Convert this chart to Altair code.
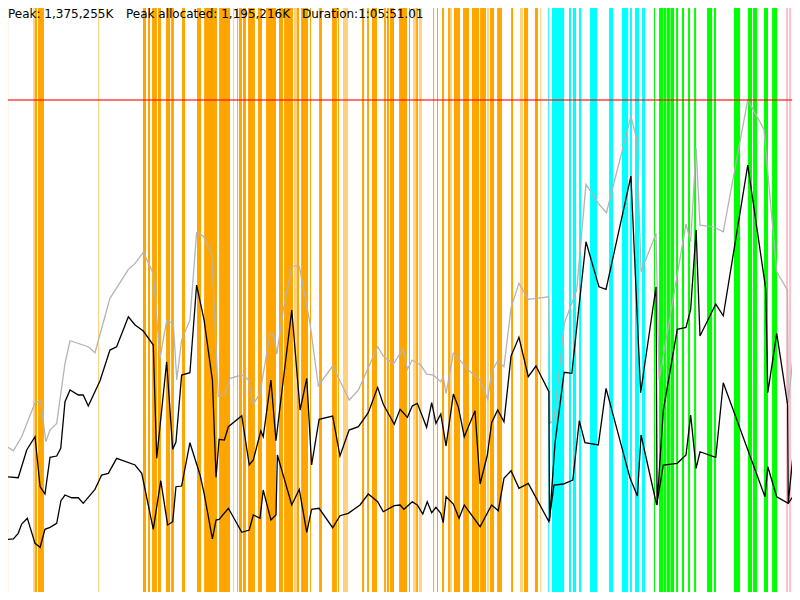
import altair as alt
import pandas as pd

# ---- header values ----
PEAK_K = 1375255          # K
PEAK_ALLOC_K = 1195216    # K
DURATION_S = 3951         # 1:05:51.01
header_texts = ["Peak: 1,375,255K", "Peak allocated: 1,195,216K", "Duration:1:05:51.01"]

# ---- GC event stripes (seconds) ----
stripe_start = [0, 30, 163, 173, 188, 484,
    706, 731, 751, 780, 820, 845, 899, 973, 1008, 1082, 1151, 1171, 1180, 1200, 1225, 1274, 1314,
    1378, 1403, 1452, 1467, 1487, 1531, 1576, 1640, 1669, 1694, 1788, 1813, 1837, 1897, 1911, 1926,
    1971, 2020, 2040, 2055, 2069, 2139, 2158, 2183, 2213, 2223, 2242, 2287, 2331, 2371, 2405, 2420,
    2455, 2524, 2568, 2588, 2642, 2667,
    2707, 2726, 2810, 2830, 2860, 2914, 3008, 3072, 3111, 3136, 3171,
    3230, 3255, 3277, 3292, 3311, 3339, 3368, 3398, 3428, 3492, 3526, 3625, 3694, 3719, 3773, 3813,
    3882, 3897, 3917, 3941]
stripe_end = [10, 40, 173, 183, 217, 489,
    721, 741, 775, 795, 840, 859, 914, 993, 1072, 1136, 1156, 1175, 1195, 1215, 1259, 1294, 1363,
    1398, 1447, 1467, 1477, 1521, 1536, 1590, 1664, 1674, 1719, 1798, 1822, 1862, 1906, 1921, 1946,
    2010, 2025, 2055, 2064, 2084, 2144, 2163, 2193, 2223, 2232, 2272, 2316, 2366, 2400, 2415, 2440,
    2479, 2534, 2583, 2608, 2657, 2672,
    2711, 2786, 2820, 2845, 2870, 2949, 3028, 3102, 3121, 3156, 3186,
    3235, 3275, 3289, 3309, 3329, 3349, 3378, 3408, 3438, 3517, 3536, 3655, 3714, 3739, 3793, 3838,
    3892, 3907, 3927, 3951]
stripe_kind = (["young"] * 61) + (["concurrent"] * 11) + (["full"] * 16) + (["other"] * 4)
stripe_light = [0, 0, 1, 0, 0, 1,
    0, 0, 0, 0, 0, 0, 0, 0, 0, 0, 1, 0, 0, 0, 0, 0, 0,
    0, 0, 1, 0, 0, 0, 0, 0, 0, 1, 0, 0, 0, 0, 0, 0,
    0, 0, 1, 0, 1, 0, 0, 0, 0, 1, 0, 0, 0, 0, 1, 0,
    0, 0, 1, 0, 0, 1,
    0, 0, 0, 0, 0, 0, 0, 0, 0, 0, 0,
    0, 0, 0, 0, 0, 0, 0, 0, 0, 0, 0, 0, 0, 0, 0, 0,
    0, 0, 0, 0]

# ---- total heap (thousand K) ----
heap_t = [25, 36, 66, 107, 173, 201, 226, 247, 280, 321, 346, 436, 469, 543, 634, 667, 708, 757, 790,
    823, 856, 873, 897, 938, 971, 1004, 1046, 1078, 1111, 1136, 1194, 1226, 1251, 1284, 1309, 1334,
    1353, 1367, 1399, 1441, 1478, 1531, 1572, 1643, 1725, 1770, 1865, 1893, 1943, 1976, 1992, 2012,
    2036, 2078, 2107, 2140, 2177, 2189, 2203, 2239, 2268, 2313, 2371, 2409, 2428, 2458, 2489, 2524,
    2563, 2609, 2711, 2716, 2736, 2787, 2848, 2894, 2958, 2995, 3116, 3145, 3166, 3240, 3255, 3388,
    3411, 3438, 3457, 3523, 3572, 3693, 3773, 3836, 3889, 3893, 3918, 3940, 3951]
heap_v = [426.3, 421.6, 410.6, 449.1, 542.6, 548.1, 435.3, 467.5, 485.9, 650.9, 713.1, 696.6, 680.1,
    829.7, 909.4, 925.9, 956.2, 898.4, 664.7, 768.1, 760.9, 605.0, 715.0, 770.0, 1010.1, 1001.0, 948.8,
    561.0, 566.5, 609.7, 618.8, 606.9, 538.2, 568.4, 650.9, 733.4, 728.8, 676.5, 797.5, 918.5, 918.5,
    760.9, 589.3, 643.5, 550.0, 577.5, 696.6, 671.0, 649.0, 678.4, 689.4, 634.4, 660.0, 646.3, 621.5,
    618.8, 600.3, 614.1, 568.4, 678.4, 661.9, 632.5, 605.0, 551.9, 627.8, 658.1, 641.6, 803.8, 870.9,
    826.9, 834.1, 485.9, 495.0, 760.9, 852.5, 1143.2, 1089.0, 1065.1, 1331.0, 1266.9, 902.8, 1008.4,
    605.0, 1034.0, 985.3, 1242.2, 1031.3, 1026.6, 1012.8, 1375.3, 1294.4, 902.8, 852.5, 541.8, 678.4,
    719.7, 728.8]

# ---- used heap before GC (thousand K) ----
used_t = [0, 36, 90, 132, 173, 198, 222, 247, 280, 300, 321, 346, 387, 411, 436, 494, 543, 576, 634,
    667, 708, 757, 774, 823, 853, 869, 897, 938, 971, 1008, 1049, 1067, 1082, 1108, 1128, 1194, 1231,
    1251, 1288, 1300, 1338, 1363, 1383, 1441, 1482, 1515, 1539, 1576, 1643, 1679, 1724, 1770, 1819,
    1865, 1893, 1947, 1976, 1992, 2012, 2036, 2061, 2107, 2132, 2153, 2177, 2203, 2239, 2264, 2293,
    2346, 2371, 2407, 2428, 2458, 2489, 2524, 2563, 2609, 2647, 2711, 2714, 2741, 2786, 2824, 2894,
    2958, 2993, 3116, 3164, 3240, 3245, 3276, 3345, 3388, 3411, 3438, 3457, 3535, 3572, 3693, 3782,
    3792, 3836, 3890, 3893, 3918, 3940]
used_v = [114.7, 339.1, 336.3, 412.5, 449.1, 311.6, 291.5, 392.4, 396.0, 417.2, 545.3, 577.5, 563.8,
    563.8, 533.5, 603.1, 687.5, 696.6, 779.1, 756.3, 739.8, 701.3, 389.7, 655.3, 414.4, 434.5, 618.8,
    625.1, 866.3, 770.0, 605.0, 337.4, 441.9, 440.0, 476.6, 506.8, 371.3, 385.0, 465.6, 449.1, 605.0,
    438.1, 531.6, 797.5, 522.5, 609.7, 371.3, 496.9, 506.0, 396.0, 467.5, 476.6, 515.1, 584.9, 538.2,
    483.2, 524.4, 515.1, 502.4, 533.5, 540.9, 474.9, 542.6, 485.9, 511.5, 423.5, 566.5, 529.9, 449.1,
    520.6, 319.0, 398.8, 487.6, 522.5, 490.3, 671.0, 722.4, 614.1, 643.5, 572.8, 217.3, 430.9, 626.2,
    623.4, 985.3, 861.6, 854.4, 1166.0, 570.1, 861.6, 261.3, 522.5, 744.4, 749.9, 799.4, 1017.5, 726.0,
    814.0, 781.8, 1196.3, 854.4, 570.1, 733.4, 536.3, 265.9, 408.3, 391.7]

# ---- used heap after GC (thousand K) ----
live_t = [0, 66, 90, 107, 135, 173, 198, 222, 247, 280, 301, 321, 354, 387, 411, 469, 502, 535, 576,
    667, 700, 757, 794, 828, 853, 869, 897, 938, 988, 1008, 1049, 1067, 1082, 1128, 1194, 1231, 1251,
    1284, 1300, 1338, 1363, 1370, 1441, 1478, 1515, 1539, 1576, 1643, 1679, 1720, 1778, 1819, 1865,
    1893, 1947, 1976, 1995, 2036, 2061, 2088, 2110, 2132, 2153, 2177, 2189, 2203, 2239, 2267, 2293,
    2371, 2428, 2461, 2489, 2524, 2563, 2609, 2711, 2736, 2782, 2829, 2861, 2889, 2955, 2993, 3112,
    3148, 3166, 3243, 3276, 3345, 3388, 3411, 3438, 3457, 3535, 3572, 3778, 3792, 3836, 3893, 3918,
    3940]
live_v = [165.0, 167.8, 183.4, 209.0, 224.7, 155.9, 144.9, 194.4, 199.9, 210.9, 273.1, 288.8, 281.3,
    281.3, 265.9, 304.4, 343.8, 348.4, 389.7, 371.3, 348.4, 194.4, 328.1, 206.3, 215.3, 311.6, 313.5,
    432.6, 343.8, 293.4, 167.8, 220.0, 221.9, 252.2, 186.2, 192.5, 233.8, 224.7, 302.5, 220.0, 233.8,
    398.8, 261.3, 304.4, 186.2, 249.4, 252.2, 198.8, 231.8, 238.4, 261.3, 291.5, 270.3, 242.8, 259.3,
    261.3, 249.4, 270.3, 261.3, 236.5, 270.3, 240.1, 254.9, 238.4, 212.6, 284.1, 264.0, 224.7, 261.3,
    201.6, 261.3, 245.6, 334.7, 355.6, 307.2, 320.9, 215.3, 316.3, 319.0, 330.0, 493.1, 432.6, 426.3,
    582.2, 334.7, 286.0, 453.8, 261.3, 371.3, 375.9, 398.8, 508.8, 362.2, 407.8, 392.4, 597.6, 284.1,
    366.6, 284.1, 265.9, 286.0, 458.4]

# ---- build tables ----
stripes = pd.DataFrame({"start": stripe_start, "end": stripe_end,
                        "kind": stripe_kind, "light": stripe_light})
rows = []
for name, ts, vs in [("total", heap_t, heap_v), ("used", used_t, used_v), ("live", live_t, live_v)]:
    for i, (t, v) in enumerate(zip(ts, vs)):
        rows.append({"series": name, "t": t, "v": v, "i": i})
lines = pd.DataFrame(rows)

Y_MAX = 1650.3
xs = alt.Scale(domain=[0, DURATION_S], nice=False, zero=False)
ys = alt.Scale(domain=[0, Y_MAX], nice=False, zero=True)

rects = alt.Chart(stripes).mark_rect(strokeWidth=0).encode(
    x=alt.X("start:Q", scale=xs, axis=None),
    x2="end:Q",
    color=alt.Color("kind:N", legend=None,
                    scale=alt.Scale(domain=["young", "concurrent", "full", "other"],
                                    range=["#FFA500", "#00FFFF", "#00FF00", "#FFC0CB"])),
    opacity=alt.Opacity("light:Q", legend=None, scale=alt.Scale(domain=[0, 1], range=[1.0, 0.5])),
)

line_layer = alt.Chart(lines).mark_line(strokeWidth=1.3).encode(
    x=alt.X("t:Q", scale=xs, axis=None),
    y=alt.Y("v:Q", scale=ys, axis=None),
    color=alt.Color("series:N", legend=None,
                    scale=alt.Scale(domain=["total", "used", "live"],
                                    range=["#b4b4b4", "#000000", "#000000"])),
    detail="series:N",
    order="i:Q",
)

peak_rule = alt.Chart(pd.DataFrame({"p": [PEAK_K / 1000]})).mark_rule(
    color="#ff0000", opacity=0.55, strokeWidth=2
).encode(y=alt.Y("p:Q", scale=ys, axis=None))

hdr = pd.DataFrame({"label": header_texts, "px": [8, 126, 302]})
header = alt.Chart(hdr).mark_text(
    align="left", baseline="alphabetic", font="DejaVu Sans", fontSize=12, color="#000000"
).encode(
    x=alt.X("px:Q", scale=alt.Scale(domain=[0, 800], nice=False, zero=True), axis=None),
    y=alt.value(17.8),
    text="label:N",
)

chart = alt.layer(rects, line_layer, peak_rule, header).resolve_scale(
    x="independent", color="independent"
).properties(
    width=800, height=600,
    padding={"left": -8, "top": -8, "right": -8, "bottom": -8},
    autosize=alt.AutoSizeParams(type="none"),
    background="#ffffff",
).configure_view(strokeWidth=0)

chart.save("out.html", embed_options={"renderer": "svg", "actions": False})
